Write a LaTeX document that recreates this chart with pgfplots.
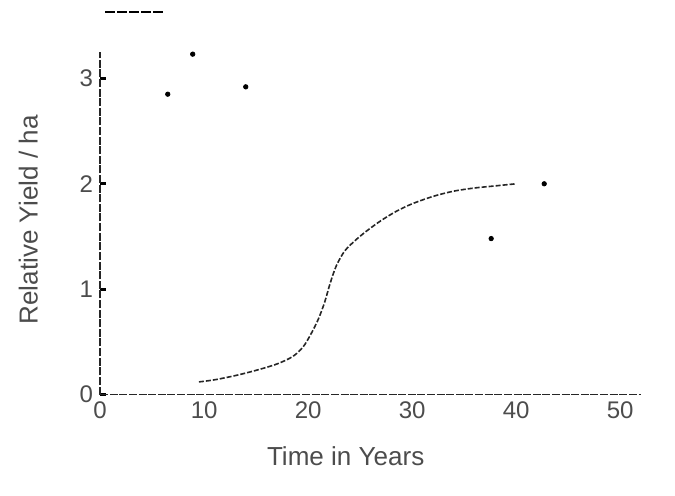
\documentclass[border=0pt]{standalone}
\usepackage{pgfplots}
\pgfplotsset{compat=1.18}
\usepackage{fontspec}
\setmainfont{Liberation Sans}

\begin{document}
\begin{tikzpicture}
\begin{axis}[
  scale only axis, width=270pt, height=171pt,
  xmin=0, xmax=52, ymin=0, ymax=3.25,
  axis x line=bottom, axis y line=left,
  axis line style={-, black!85, line width=0.8pt, dash pattern=on 4pt off 0.8pt},
  xtick={0,10,...,50}, ytick={0,1,2,3},
  xtick style={draw=none},
  ytick style={black, line width=1.6pt},
  tick align=inside, major tick length=3pt,
  /pgf/number format/assume math mode=true,
  tick label style={font=\fontsize{12}{14}\selectfont, text=black!70},
  xlabel={Time in Years},
  ylabel={Relative Yield / ha},
  label style={font=\fontsize{13}{15}\selectfont, text=black!70},
  xlabel style={at={(axis description cs:0.454,-0.181)}, anchor=center},
  ylabel style={at={(axis description cs:-0.133,0.51)}, anchor=center},
  clip=false,
]
% growth curve
\addplot[black!85, line width=0.8pt, dash pattern=on 2.5pt off 1pt, smooth] coordinates {
(9.5,0.12) (11,0.14) (13,0.18) (15,0.23) (17,0.29) (18.5,0.36) (19.5,0.45)
(20.3,0.58) (21,0.72) (21.6,0.88) (22.1,1.05) (22.7,1.22) (23.5,1.36)
(24.5,1.46) (25.6,1.55) (27,1.65) (28.5,1.74) (30,1.81) (32,1.88)
(34,1.93) (36,1.96) (38,1.98) (40,2.0)
};
% isolated specks in the scan
\addplot[only marks, mark=*, mark size=1.1pt, black] coordinates {
(42.7,2.0) (8.9,3.23) (14,2.92) (6.5,2.85) (37.6,1.48)
};
% short stroke above the axis
\addplot[black, line width=0.8pt, dash pattern=on 5pt off 1pt] coordinates {(0.5,3.63) (6.2,3.63)};
% fix the page to the reference's frame
\path (axis description cs:-0.1852,-0.2953) rectangle (axis description cs:1.063,1.152);
\end{axis}
\end{tikzpicture}
\end{document}
